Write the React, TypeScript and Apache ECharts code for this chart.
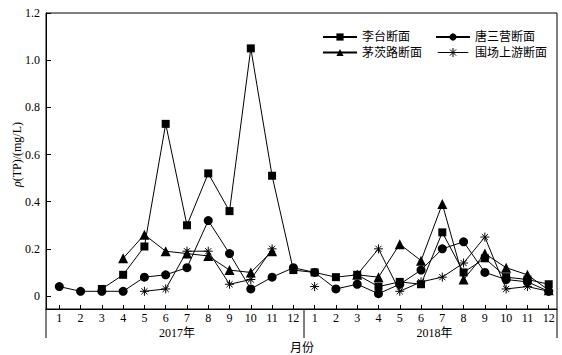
import React, { useEffect, useRef } from "react";
import * as echarts from "echarts";

// Month tick labels (two years)
const monthLabels = ["1", "2", "3", "4", "5", "6", "7", "8", "9", "10", "11", "12", "1", "2", "3", "4", "5", "6", "7", "8", "9", "10", "11", "12"];
const years = ["2017年", "2018年"];
const yTicks = [0, 0.2, 0.4, 0.6, 0.8, 1.0, 1.2];

const seriesNames = ["李台断面", "唐三营断面", "茅茨路断面", "围场上游断面"];

// ρ(TP) values, mg/L (null = no sample)
const litai = [null, null, 0.03, 0.09, 0.21, 0.73, 0.30, 0.52, 0.36, 1.05, 0.51, 0.11,
  0.10, 0.08, 0.09, 0.04, 0.06, 0.05, 0.27, 0.10, 0.16, 0.08, 0.07, 0.05];
const tangsanying = [0.04, 0.02, 0.02, 0.02, 0.08, 0.09, 0.12, 0.32, 0.18, 0.03, 0.08, 0.12,
  0.10, 0.03, 0.05, 0.01, 0.05, 0.11, 0.20, 0.23, 0.10, 0.07, 0.06, 0.02];
const maocilu = [null, null, null, 0.16, 0.26, 0.19, 0.18, 0.17, 0.11, 0.10, 0.19, null,
  null, null, 0.09, 0.08, 0.22, 0.15, 0.39, 0.07, 0.18, 0.12, 0.09, 0.025];
const weichang = [null, null, null, null, 0.02, 0.03, 0.19, 0.19, 0.05, 0.07, 0.20, null,
  0.04, null, 0.09, 0.20, 0.02, 0.06, 0.08, 0.14, 0.25, 0.03, 0.04, 0.02];

const SERIF = "'Liberation Serif', 'Noto Sans CJK SC', serif";
const STAR = "path://M5 0L5 10M0 5L10 5M1.6 1.6L8.4 8.4M1.6 8.4L8.4 1.6";
const STAR_LEGEND = "path://M0 5L34 5M17 0L17 10M12 5L22 5M13.6 1.6L20.4 8.4M13.6 8.4L20.4 1.6";

const X_MIN = 0.375;
const X_MAX = 24.39;
const Y_MIN = -0.055;
const Y_MAX = 1.2;

function toData(arr: (number | null)[]) {
  return arr.map((v, i) => [i + 1, v == null ? "-" : v]);
}

export default function App() {
  const ref = useRef<HTMLDivElement>(null);

  useEffect(() => {
    if (!ref.current) return;
    const chart = echarts.init(ref.current, undefined, { renderer: "svg" });
    const xs = monthLabels.map((_, i) => i + 1);

    const lineStyle = { color: "#000", width: 1 };
    const mk = (name: string, arr: (number | null)[], symbol: string, size: number, star = false) => ({
      name,
      type: "line",
      data: toData(arr),
      symbol,
      symbolSize: size,
      showAllSymbol: true,
      connectNulls: false,
      lineStyle,
      itemStyle: star
        ? { color: "#000", borderColor: "#000", borderWidth: 1 }
        : { color: "#000", borderWidth: 0 },
      emphasis: { disabled: true },
    });

    const legendText = { color: "#000", fontSize: 12, fontFamily: SERIF };

    chart.setOption({
      animation: false,
      backgroundColor: "#fff",
      grid: {
        left: 46,
        right: 5,
        top: 13,
        bottom: 46,
        show: true,
        borderColor: "#000",
        borderWidth: 1,
        backgroundColor: "transparent",
        outerBoundsMode: "none",
      },
      legend: [
        {
          data: [seriesNames[0], seriesNames[2]],
          orient: "vertical",
          left: 317,
          top: 26,
          itemWidth: 34,
          itemHeight: 9,
          itemGap: 3.5,
          textStyle: legendText,
        },
        {
          data: [
            seriesNames[1],
            {
              name: seriesNames[3],
              icon: STAR_LEGEND,
              itemStyle: { color: "#000", borderColor: "#000", borderWidth: 1 },
            },
          ],
          orient: "vertical",
          left: 430,
          top: 26,
          itemWidth: 34,
          itemHeight: 9,
          itemGap: 3.5,
          textStyle: legendText,
        },
      ],
      xAxis: {
        type: "value",
        min: X_MIN,
        max: X_MAX,
        splitLine: { show: false },
        axisLine: { show: true, onZero: false, lineStyle: { color: "#000", width: 1 } },
        axisTick: { show: true, inside: true, length: 4, customValues: xs, lineStyle: { color: "#000" } },
        axisLabel: {
          customValues: xs,
          formatter: (v: number) => monthLabels[Math.round(v) - 1] ?? "",
          color: "#000",
          fontSize: 12,
          fontFamily: SERIF,
          margin: 3,
        },
      },
      yAxis: {
        type: "value",
        min: Y_MIN,
        max: Y_MAX,
        splitLine: { show: false },
        axisLine: { show: true, onZero: false, lineStyle: { color: "#000", width: 1 } },
        axisTick: { show: true, inside: true, length: 5, customValues: yTicks, lineStyle: { color: "#000" } },
        axisLabel: {
          customValues: yTicks,
          formatter: (v: number) => (Math.abs(v) < 1e-9 ? "0" : v.toFixed(1)),
          color: "#000",
          fontSize: 12,
          fontFamily: SERIF,
          margin: 6,
        },
      },
      series: [
        mk(seriesNames[0], litai, "rect", 8),
        mk(seriesNames[1], tangsanying, "circle", 9),
        mk(seriesNames[2], maocilu, "triangle", 10),
        mk(seriesNames[3], weichang, STAR, 9, true),
      ],
    });

    // Decorations below the x axis (year brackets, labels) positioned through the axes
    const px = (x: number) => chart.convertToPixel({ xAxisIndex: 0 }, x) as number;
    const py = (y: number) => chart.convertToPixel({ yAxisIndex: 0 }, y) as number;
    const xl = px(X_MIN);
    const xm = px(12.5);
    const xr = px(X_MAX);
    const yb = py(Y_MIN);
    const yName = py(0.6);
    const lineStyleG = { stroke: "#000", lineWidth: 1 };

    chart.setOption({
      graphic: [
        { type: "line", shape: { x1: xl, y1: yb, x2: xl, y2: yb + 29 }, style: lineStyleG, silent: true },
        { type: "line", shape: { x1: xm, y1: yb, x2: xm, y2: yb + 29 }, style: lineStyleG, silent: true },
        { type: "line", shape: { x1: xr, y1: yb, x2: xr, y2: yb + 29 }, style: lineStyleG, silent: true },
        {
          type: "text",
          x: (xl + xm) / 2 + 2,
          y: yb + 24,
          style: { text: years[0], fill: "#000", fontSize: 12, fontFamily: SERIF, align: "center", verticalAlign: "middle" },
          silent: true,
        },
        {
          type: "text",
          x: (xm + xr) / 2 + 4,
          y: yb + 24,
          style: { text: years[1], fill: "#000", fontSize: 12, fontFamily: SERIF, align: "center", verticalAlign: "middle" },
          silent: true,
        },
        {
          type: "text",
          x: xm - 2,
          y: yb + 39,
          style: { text: "月份", fill: "#000", fontSize: 12, fontFamily: SERIF, align: "center", verticalAlign: "middle" },
          silent: true,
        },
        {
          type: "text",
          x: 17,
          y: yName,
          rotation: Math.PI / 2,
          style: {
            text: "{i|ρ}(TP)/(mg/L)",
            fill: "#000",
            fontSize: 12,
            fontFamily: SERIF,
            align: "center",
            verticalAlign: "middle",
            rich: { i: { fontStyle: "italic", fontSize: 12, fontFamily: SERIF, fill: "#000" } },
          },
          silent: true,
        },
      ],
    });

    return () => chart.dispose();
  }, []);

  return (
    <div
      ref={ref}
      style={{ position: "fixed", left: 0, top: 0, width: 562, height: 355, background: "#fff" }}
    />
  );
}
